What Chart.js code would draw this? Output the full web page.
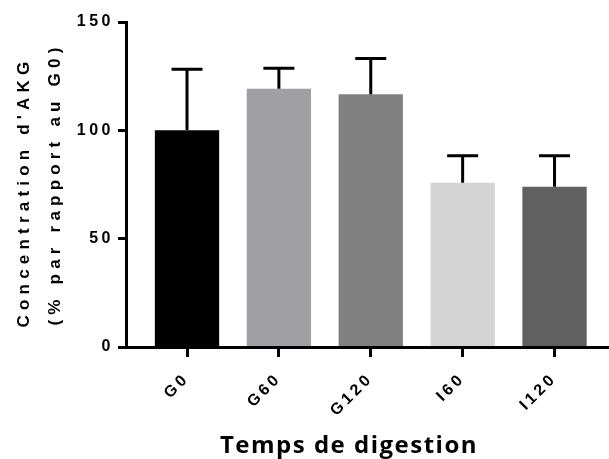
<!DOCTYPE html>
<html>
<head>
<meta charset="utf-8">
<script src="https://cdn.jsdelivr.net/npm/chart.js@4.4.0/dist/chart.umd.min.js"></script>
<style>
  body { margin: 0; background: #fff; }
  canvas { display: block; }
</style>
</head>
<body>
<canvas id="barChart" width="609" height="459"></canvas>
<script>
var categories = ["G0", "G60", "G120", "I60", "I120"];
var values = [100, 119.2, 116.6, 75.8, 74];
var errors = [28.2, 9.5, 16.6, 12.5, 14.3];
var barColors = ["#000000", "#a0a0a4", "#808080", "#d4d4d4", "#606060"];
var yTicks = [0, 50, 100, 150];
var yTitle = ["Concentration d'AKG", "(% par rapport au G0)"];
var xTitle = "Temps de digestion";

// tick labels are letter-spaced like the original
var spacing = {
  id: 'spacing',
  beforeDraw: function(chart) {
    chart.ctx.letterSpacing = '3.5px';
  }
};

// upper error bars with caps
var errorBars = {
  id: 'errorBars',
  afterDatasetsDraw: function(chart) {
    var ctx = chart.ctx;
    var y = chart.scales.y;
    var meta = chart.getDatasetMeta(0);
    ctx.save();
    ctx.strokeStyle = '#000';
    ctx.lineWidth = 3;
    meta.data.forEach(function(bar, i) {
      var top = y.getPixelForValue(values[i] + errors[i]);
      ctx.beginPath();
      ctx.moveTo(bar.x, bar.y);
      ctx.lineTo(bar.x, top);
      ctx.moveTo(bar.x - 15.5, top);
      ctx.lineTo(bar.x + 15.5, top);
      ctx.stroke();
    });
    ctx.restore();
  }
};

var titles = {
  id: 'titles',
  afterDraw: function(chart) {
    var ctx = chart.ctx;
    ctx.save();
    ctx.fillStyle = '#000';
    ctx.textAlign = 'center';
    ctx.textBaseline = 'alphabetic';
    ctx.letterSpacing = '1.5px';
    ctx.font = 'bold 24px "Open Sans"';
    ctx.fillText(xTitle, 349, 453);

    ctx.letterSpacing = '5.2px';
    ctx.font = 'bold 17px "Liberation Sans"';
    ctx.save();
    ctx.translate(29, 192);
    ctx.rotate(-Math.PI / 2);
    ctx.fillText(yTitle[0], 0, 0);
    ctx.restore();
    ctx.save();
    ctx.translate(60, 184);
    ctx.rotate(-Math.PI / 2);
    ctx.fillText(yTitle[1], 0, 0);
    ctx.restore();
    ctx.restore();
  }
};

var tickFont = { family: '"Liberation Sans", Arial, sans-serif', size: 16, weight: 'bold' };

var ctxB = document.getElementById("barChart").getContext('2d');
var myBarChart = new Chart(ctxB, {
  type: 'bar',
  data: {
    datasets: [{
      data: values.map(function(v, i) { return { x: i, y: v }; }),
      backgroundColor: barColors,
      borderWidth: 0,
      barPercentage: 0.7,
      categoryPercentage: 1
    }]
  },
  options: {
    responsive: false,
    animation: false,
    layout: { padding: { left: 0, right: 1, top: 22, bottom: 0 } },
    plugins: {
      legend: { display: false },
      tooltip: { enabled: false }
    },
    scales: {
      x: {
        type: 'linear',
        offset: false,
        min: -0.664,
        max: 4.582,
        afterBuildTicks: function(scale) {
          scale.ticks = categories.map(function(c, i) { return { value: i }; });
        },
        afterFit: function(scale) { scale.height = 112; },
        grid: { offset: false, drawOnChartArea: false, tickLength: 10, tickWidth: 3, tickColor: '#000' },
        border: { display: true, color: '#000', width: 3, z: 1 },
        ticks: {
          autoSkip: false,
          minRotation: 45,
          maxRotation: 45,
          padding: 12,
          color: '#000',
          font: tickFont,
          callback: function(v) { return categories[v]; }
        }
      },
      y: {
        min: 0,
        max: 150,
        afterBuildTicks: function(scale) {
          scale.ticks = yTicks.map(function(t) { return { value: t }; });
        },
        afterFit: function(scale) { scale.width = 126; },
        grid: { drawOnChartArea: false, tickLength: 8, tickWidth: 3, tickColor: '#000' },
        border: { display: true, color: '#000', width: 3, z: 1 },
        ticks: { padding: 4, color: '#000', font: tickFont }
      }
    }
  },
  plugins: [spacing, errorBars, titles]
});
</script>
</body>
</html>
